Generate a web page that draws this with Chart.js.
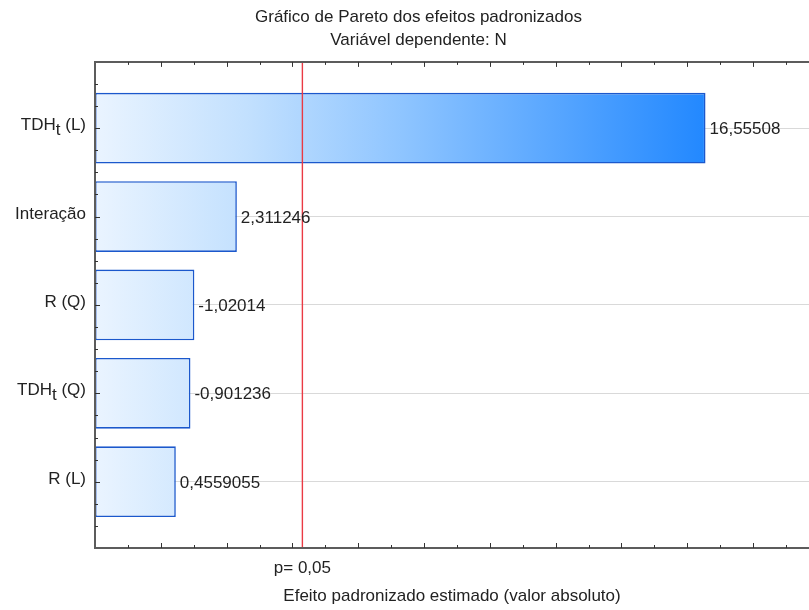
<!DOCTYPE html>
<html>
<head>
<meta charset="utf-8">
<title>Gráfico de Pareto dos efeitos padronizados</title>
<script src="https://cdn.jsdelivr.net/npm/chart.js@4/dist/chart.umd.min.js"></script>
<style>
    html, body { margin: 0; padding: 0; background: #fff; }
    #wrap { width: 809px; height: 610px; }
</style>
</head>
<body>
<div id="wrap"><canvas id="pareto"></canvas></div>
<script>
/* eslint-disable no-magic-numbers */

// effects (standardized), ordered by absolute size
var categories = ['TDH_t (L)', 'Interação', 'R (Q)', 'TDH_t (Q)', 'R (L)'];
var effects = [16.55508, 2.311246, -1.02014, -0.901236, 0.4559055];
var pLabel = 'p= 0,05';
var pCritical = 4.303; // t crit, p = 0.05

var xMin = -2;
var xMax = 19.7;
var yMin = -0.75;
var yMax = 4.75;

var FONT = '"Liberation Sans", Arial, sans-serif';
var TEXT = '#222';
var FRAME = '#5c5c5c';

var barData = effects.map(function (v, i) {
    return { x: Math.abs(v), y: i };
});

var fmt = function (v) {
    return String(v).replace('.', ',');
};

// "TDH_t" -> TDH with subscript t
var drawLabel = function (ctx, text, right, baseline) {
    var parts = [];
    var m = text.match(/^(.*?)_(.)(.*)$/);
    if (m) {
        parts = [[m[1], 0], [m[2], 5], [m[3], 0]];
    } else {
        parts = [[text, 0]];
    }
    var total = 0;
    parts.forEach(function (p) { total += ctx.measureText(p[0]).width; });
    var x = right - total;
    ctx.textAlign = 'left';
    parts.forEach(function (p) {
        ctx.fillText(p[0], x, baseline + p[1]);
        x += ctx.measureText(p[0]).width;
    });
};

var barFill = function (context) {
    var chart = context.chart;
    var area = chart.chartArea;
    if (!area) {
        return '#9ccaff';
    }
    var xs = chart.scales.x;
    var top = Math.max.apply(null, barData.map(function (d) { return d.x; }));
    var g = chart.ctx.createLinearGradient(area.left, 0, xs.getPixelForValue(top), 0);
    g.addColorStop(0, '#eaf4ff');
    g.addColorStop(0.25, '#c2e0fe');
    g.addColorStop(0.5, '#8fc5ff');
    g.addColorStop(1, '#2288ff');
    return g;
};

// frame, inward ticks, category labels, critical line, value labels
var paretoDecor = {
    id: 'paretoDecor',
    afterDatasetsDraw: function (chart) {
        var ctx = chart.ctx;
        var a = chart.chartArea;
        var xs = chart.scales.x;
        var ys = chart.scales.y;
        var v;
        ctx.save();

        // critical value line
        var px = xs.getPixelForValue(pCritical);
        ctx.strokeStyle = '#ea3a44';
        ctx.lineWidth = 1.4;
        ctx.beginPath();
        ctx.moveTo(px, a.top);
        ctx.lineTo(px, a.bottom);
        ctx.stroke();

        // frame
        ctx.strokeStyle = FRAME;
        ctx.lineWidth = 2;
        ctx.beginPath();
        ctx.moveTo(a.right + 2, a.top);
        ctx.lineTo(a.left, a.top);
        ctx.lineTo(a.left, a.bottom);
        ctx.lineTo(a.right + 2, a.bottom);
        ctx.stroke();

        // ticks on x (bottom and top), major every 2
        ctx.lineWidth = 1;
        ctx.strokeStyle = '#333';
        for (v = xMin + 1; v < xMax; v++) {
            var x = Math.round(xs.getPixelForValue(v)) + 0.5;
            var len = v % 2 === 0 ? 5 : 3;
            ctx.beginPath();
            ctx.moveTo(x, a.bottom);
            ctx.lineTo(x, a.bottom - len);
            ctx.moveTo(x, a.top);
            ctx.lineTo(x, a.top + len);
            ctx.stroke();
        }

        // ticks on y (left), major at each category
        for (v = yMin + 0.25; v < yMax; v += 0.25) {
            var y = Math.round(ys.getPixelForValue(v)) + 0.5;
            var ylen = Number.isInteger(v) ? 5 : 3;
            ctx.beginPath();
            ctx.moveTo(a.left, y);
            ctx.lineTo(a.left + ylen, y);
            ctx.stroke();
        }

        ctx.fillStyle = TEXT;
        ctx.font = '17px ' + FONT;
        ctx.textBaseline = 'alphabetic';

        // category labels
        categories.forEach(function (c, i) {
            drawLabel(ctx, c, a.left - 9, ys.getPixelForValue(i) + 2);
        });

        // value labels at bar ends
        var meta = chart.getDatasetMeta(0);
        ctx.textAlign = 'left';
        meta.data.forEach(function (bar, i) {
            ctx.fillText(fmt(effects[i]), bar.x + 4, bar.y + 6);
        });

        // critical value label under the axis
        ctx.textAlign = 'center';
        ctx.fillText(pLabel, px, a.bottom + 25);

        ctx.restore();
    }
};

var pareto = new Chart(document.getElementById('pareto'), {
    type: 'bar',
    data: {
        labels: categories,
        datasets: [{
            data: barData,
            base: xMin,
            backgroundColor: barFill,
            borderColor: '#1b58cc',
            borderWidth: 1.6,
            borderSkipped: false,
            barPercentage: 0.8,
            categoryPercentage: 1
        }]
    },
    options: {
        indexAxis: 'y',
        responsive: true,
        maintainAspectRatio: false,
        animation: false,
        layout: {
            padding: { left: 28, right: 0, top: 0, bottom: 0 }
        },
        plugins: {
            legend: { display: false },
            tooltip: { enabled: false },
            title: {
                display: true,
                text: ['Gráfico de Pareto dos efeitos padronizados', 'Variável dependente: N'],
                color: TEXT,
                font: { family: FONT, size: 17, weight: 'normal', lineHeight: 1.35 },
                padding: { top: 6, bottom: 10 }
            }
        },
        scales: {
            x: {
                type: 'linear',
                min: xMin,
                max: xMax,
                ticks: { display: false },
                grid: { display: false },
                border: { display: false },
                title: {
                    display: true,
                    text: 'Efeito padronizado estimado (valor absoluto)',
                    color: TEXT,
                    font: { family: FONT, size: 17 },
                    padding: { top: 0, bottom: 3 }
                },
                afterFit: function (scale) {
                    scale.height = 62;
                }
            },
            y: {
                type: 'linear',
                reverse: true,
                offset: false,
                min: yMin,
                max: yMax,
                ticks: { display: false },
                afterBuildTicks: function (scale) {
                    scale.ticks = categories.map(function (c, i) {
                        return { value: i };
                    });
                },
                grid: { drawTicks: false, offset: false, color: '#d9d9d9' },
                border: { display: false },
                afterFit: function (scale) {
                    scale.width = 67;
                }
            }
        }
    },
    plugins: [paretoDecor]
});
</script>
</body>
</html>
